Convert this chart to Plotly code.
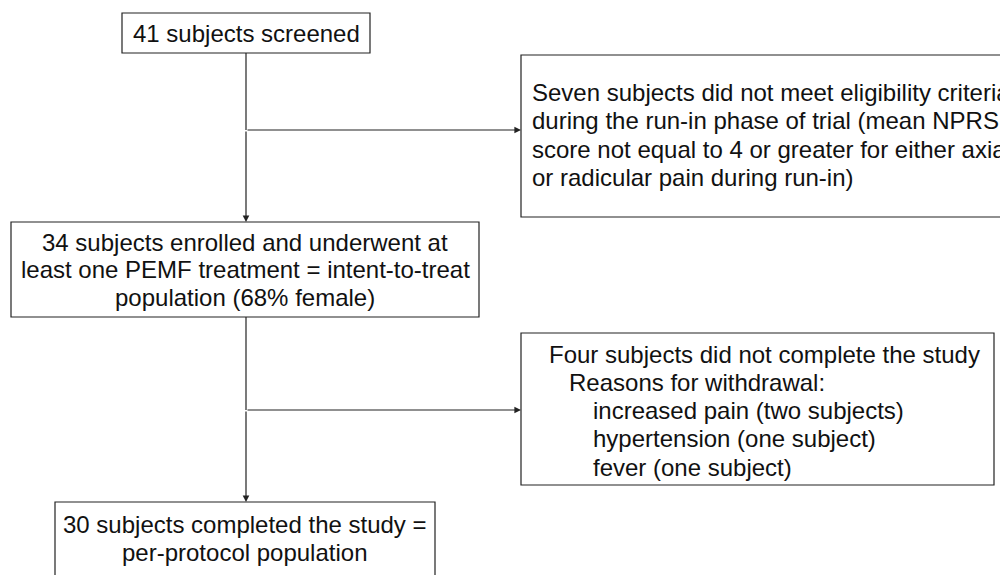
import plotly.graph_objects as go

# ---- content ----
screened_lines = ["41 subjects screened"]
excluded_lines = [
    "Seven subjects did not meet eligibility criteria",
    "during the run-in phase of trial (mean NPRS",
    "score not equal to 4 or greater for either axial",
    "or radicular pain during run-in)",
]
enrolled_lines = [
    "34 subjects enrolled and underwent at",
    "least one PEMF treatment = intent-to-treat",
    "population (68% female)",
]
withdrawn_lines = [
    "Four subjects did not complete the study",
    "Reasons for withdrawal:",
    "increased pain (two subjects)",
    "hypertension (one subject)",
    "fever (one subject)",
]
withdrawn_indent = [0, 1, 2, 2, 2]
completed_lines = [
    "30 subjects completed the study =",
    "per-protocol population",
]

# page has an 8px body margin; map data coords to page pixels
W, H = 1008, 575
OFF = 8
FONT = dict(family="Liberation Sans, Arial, sans-serif", size=24, color="#111")
LINE_COL = "#222"

fig = go.Figure()

def box(x0, y0, x1, y1):
    fig.add_shape(type="rect", x0=x0, y0=y0, x1=x1, y1=y1, xref="x", yref="y",
                  line=dict(color=LINE_COL, width=1.2), fillcolor="rgba(0,0,0,0)")

def seg(x0, y0, x1, y1):
    fig.add_shape(type="line", x0=x0, y0=y0, x1=x1, y1=y1, xref="x", yref="y",
                  line=dict(color=LINE_COL, width=1.2))

def arrow(x0, y0, x1, y1):
    fig.add_annotation(x=x1, y=y1, ax=x0, ay=y0, xref="x", yref="y", axref="x", ayref="y",
                       text="", showarrow=True, arrowhead=2, arrowsize=1.1,
                       arrowwidth=1.2, arrowcolor=LINE_COL)

def text_lines(lines, x, y0, dy, anchor="center", indents=None, indent_px=None):
    for i, t in enumerate(lines):
        xx = x
        if indents is not None:
            xx = x + indent_px[indents[i]]
        fig.add_annotation(x=xx, y=y0 + i * dy, xref="x", yref="y", text=t,
                           showarrow=False, xanchor=anchor, yanchor="middle",
                           font=FONT)

# boxes
box(122, 13, 370, 53)          # screened
box(521, 55, 1015, 217)        # excluded
box(11, 222, 479, 317)         # enrolled
box(521, 333, 994, 485)        # withdrawn
box(55, 502, 435, 585)         # completed

# connectors
seg(246, 53, 246, 130)
arrow(246, 130, 246, 222)
arrow(246, 130, 521, 130)
seg(246, 317, 246, 410)
arrow(246, 410, 246, 502)
arrow(246, 410, 521, 410)

# text
text_lines(screened_lines, 246, 33, 28)
text_lines(excluded_lines, 530, 92, 28.5, anchor="left")
text_lines(enrolled_lines, 245, 242, 27.5)
text_lines(withdrawn_lines, 547, 354, 28.3, anchor="left",
           indents=withdrawn_indent, indent_px=[0, 20, 44])
text_lines(completed_lines, 245, 524, 28.5)

fig.update_layout(
    width=W - OFF, height=H - OFF,
    margin=dict(l=0, r=0, t=0, b=0),
    paper_bgcolor="white", plot_bgcolor="white",
    xaxis=dict(range=[OFF, W], visible=False, fixedrange=True),
    yaxis=dict(range=[H, OFF], visible=False, fixedrange=True),
    showlegend=False,
)

fig.write_html("out.html")
